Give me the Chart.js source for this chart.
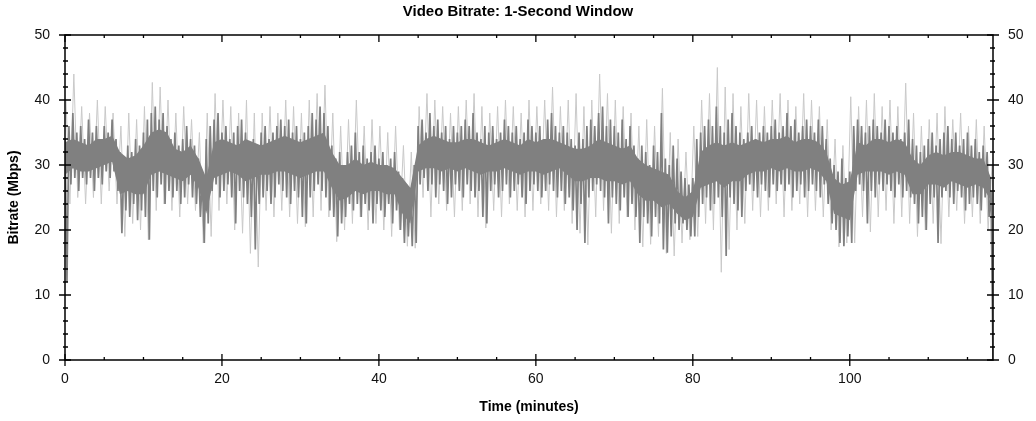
<!DOCTYPE html>
<html>
<head>
<meta charset="utf-8">
<script src="https://cdn.jsdelivr.net/npm/chart.js@4.4.1/dist/chart.umd.min.js"></script>
<style>
html,body{margin:0;padding:0;background:#fff;}
#wrap{width:1036px;height:421px;position:relative;}
</style>
</head>
<body>
<div id="wrap"><canvas id="c" width="1036" height="421"></canvas></div>
<script>
// Sampling interval of the band arrays (minutes)
const CORE_STEP = 0.5;
const PEAK_STEP = 1;
const BODY_STEP = 1;

// Densest part of the trace: upper / lower edge per minute (Mbps), t = 0 .. 118
const bodyHigh = [
 33.5,34,33.5,33,34,34,34.5,32,31,31.5,
 33,35,35.5,35,32.5,32,33,31,28,33.5,
 34,33.5,33,34,33.5,33,33.5,34,34.5,34,
 33.5,34,34.5,35,32,30,30,31,30,30.5,
 30,30,29.5,28,26.5,33,34,34.5,34,33.5,
 33.5,34,34,33.5,33,33.5,34,33.5,33,34,
 33.5,34,34,33.5,33,32.5,32.5,33,34,33.5,
 33,32.5,33,31,30,29.5,29,28.5,26,25,
 26,32,33,33.5,33,33.5,33,33.5,34,33.5,
 34,34,34.5,33.5,34,34,33.5,32,28,27,
 27.5,33.5,33,34,34,33.5,34,33.5,31,30,
 31.5,32,31.5,32,32,31.5,31,31,28
];
const bodyLow = [
 28.5,29.5,29,29,29.5,30,30.5,25.5,26,25.5,
 25.5,28.5,29,28.5,28,27.5,28.5,26.5,22.5,28,
 28.5,29,28.5,27.5,28,28.5,28.5,29,29,28.5,
 28,28.5,29,29,26.5,24.5,25,26,25.5,26,
 26,25.5,25.5,22.5,21,29,29.5,29.5,29,29.5,
 29,29.5,29,28.5,29,29,29.5,29,28.5,29,
 29,28.5,29,29.5,28.5,27.5,27.5,28,28,27.5,
 27.5,27,27.5,25.5,24.5,24.5,23.5,24,22.5,21.5,
 22,26.5,27,27.5,26.5,27.5,27.5,28.5,29,29,
 29.5,29,29.5,29,29,29.5,29,27.5,22.5,22,
 21.5,28.5,29,29,29,28.5,29,28.5,25.5,25.5,
 27,27,26.5,27.5,27,26.5,27,26.5,24.5
];

// Dark spikes: upper / lower value per half minute (Mbps), t = 0 .. 118
const coreHigh = [
 34,36,38,35,36,34,37,35,36,34,36,35,37,34,32,31,33,32,34,33,
 35,37,38,39,37,38,36,34,35,33,34,36,34,33,31,28,34,36,37,38,
 35,36,34,35,36,37,35,33,34,33,35,36,34,35,36,37,36,37,35,36,
 34,35,36,38,37,39,38,36,33,31,32,30,32,33,35,32,33,31,32,33,
 31,32,30,31,32,29,28,27,26,30,36,37,35,38,36,37,35,36,34,36,
 35,36,37,36,38,35,34,36,35,36,34,35,37,36,35,36,34,35,37,36,
 35,36,34,37,38,36,35,36,35,34,33,35,34,36,37,36,38,39,36,37,
 36,35,37,34,36,33,31,33,32,30,33,32,38,31,30,33,31,29,28,27,
 28,34,35,36,37,36,39,36,35,37,38,36,35,34,35,36,34,35,36,35,
 36,37,35,36,38,36,37,35,36,37,36,35,37,36,34,31,30,29,31,28,
 29,36,37,36,35,36,37,36,35,37,36,35,36,34,35,37,34,33,32,33,
 34,35,33,34,35,36,34,35,33,34,35,33,34,32,33,32,26
];
const coreLow = [
 12,27,28,26,28,27,28,26,28,27,29,28,29,26,19.5,23,22,24,21.5,23,
 22,18.5,26,25,27,24,26,25,26,24,25,27,25,24,22,18,21,26,27,25,
 26,27,25,21,26,25,24,22,17,24,25,26,24,25,27,26,25,24,26,25,
 22,21,25,26,27,26,25,23,22,19,21,22,24,23,24,22,24,23,21,24,
 23,22,24,21,23,20,18,19,17.5,18,27,28,26,27,25,27,26,24,25,27,
 26,25,27,26,25,26,22,21,26,27,25,26,27,25,26,27,25,24,26,27,
 26,25,26,27,26,25,26,24,25,23,20,24,18,25,26,27,26,25,21,25,
 24,23,25,22,24,22,18,22,21,19,22,21,17,16.5,19,21,20,21,20,19,
 19,22,24,25,23,24,25,22,16,25,24,23,22,26,27,26,25,27,26,25,
 27,26,27,26,27,25,26,27,25,26,27,26,25,27,24,21,20,18,17.5,19,
 18,26,27,26,21,26,25,27,26,27,26,25,27,25,26,25,24,21,22,20,
 24,25,18,25,26,25,24,26,25,23,24,25,24,23,25,22,0
];

// Light outer spikes: highest / lowest value per minute (Mbps)
const peakHigh = [
 40,44,39,38,40,39,38,36,38,37,
 39,42.7,42,40,38,39,37,35,38,41,
 40,39,38,40,38,38,39,38,40,39,
 38,40,41,42.3,38,36,37,40,36,37,
 36,35,36,33,32,39,41,40,39,38,
 39,40,41,39,38,39,40,39,38,40,
 39,40,42,39,40,41,39,40,44,41,
 40,39,38,36,37,36,41.8,35,34,32,
 36,40,41,45,42,41,39,41,40,39,
 40,41,40,39,41,40,39,37,34,33,
 40.5,39,40,41,39,40,39,42.6,38,36,
 37,38,39,37,38,36,37,36,30
];
const peakLow = [
 24,25,24,25,24,26,24,19,21,20,
 18.5,23,24,23,22,24,23,18,19,23,
 24,20,19.5,16.4,14.3,23,22,23,22,21,
 20.5,22,23,22,18.2,20,21,22,20,21,
 20,19,20,17.5,17.2,25,22,24,23,22,
 23,24,22,20.3,23,22,24,23,22,23,
 24,23,22,23,21,19.5,17.7,22,23,19.5,
 21,22,20,17.4,17.8,19,16.4,16,18,18.5,
 19,21,20,13.5,17,20,21,23,22,23,
 24,22,23,24,22,23,22,20,17.4,18,
 18,22,19.7,22,23,21,22,21,19,20,
 21,17.9,22,23,21,22,21,20
];

const xTickLabels = [0, 20, 40, 60, 80, 100];
const yTickLabels = [0, 10, 20, 30, 40, 50];

function zigzag(highs, lows, step) {
  const pts = [];
  const n = Math.max(highs.length, lows.length);
  for (let i = 0; i < n; i++) {
    if (i < highs.length) pts.push({x: i * step, y: highs[i]});
    if (i < lows.length) pts.push({x: i * step + step / 2, y: lows[i]});
  }
  return pts;
}
const series = (vals, step) => vals.map((v, i) => ({x: i * step, y: v}));

const corePts = zigzag(coreHigh, coreLow, CORE_STEP);
const peakPts = zigzag(peakHigh, peakLow, PEAK_STEP).map(p => ({x: p.x + 0.125, y: p.y}));

const FONT = "'Liberation Sans', Arial, sans-serif";
const DARK = '#808080';

const frame = {
  id: 'frame',
  afterDatasetsDraw(chart) {
    const {ctx, chartArea: a, scales} = chart;
    const xs = scales.x, ys = scales.y;
    ctx.save();
    ctx.strokeStyle = '#000';
    ctx.lineWidth = 1.5;
    ctx.strokeRect(a.left, a.top, a.right - a.left, a.bottom - a.top);
    ctx.lineWidth = 1.3;
    ctx.beginPath();
    for (let v = 0; v <= 50; v += 2) {
      const y = ys.getPixelForValue(v);
      if (v % 10 === 0) {
        ctx.moveTo(a.left - 6, y); ctx.lineTo(a.left + 6, y);
        ctx.moveTo(a.right - 6, y); ctx.lineTo(a.right + 6, y);
      } else {
        ctx.moveTo(a.left - 2, y); ctx.lineTo(a.left + 3, y);
        ctx.moveTo(a.right - 3, y); ctx.lineTo(a.right + 2, y);
      }
    }
    for (let t = 0; t <= 115; t += 5) {
      const x = xs.getPixelForValue(t);
      if (t % 20 === 0) {
        ctx.moveTo(x, a.bottom - 6); ctx.lineTo(x, a.bottom + 6);
        ctx.moveTo(x, a.top); ctx.lineTo(x, a.top + 7);
      } else {
        ctx.moveTo(x, a.bottom - 3); ctx.lineTo(x, a.bottom);
        ctx.moveTo(x, a.top); ctx.lineTo(x, a.top + 3);
      }
    }
    ctx.stroke();
    ctx.restore();
  }
};

new Chart(document.getElementById('c'), {
  type: 'line',
  data: {
    datasets: [
      {data: series(bodyHigh, BODY_STEP), borderColor: DARK, borderWidth: 0, pointRadius: 0, tension: 0, fill: false, order: 1},
      {data: series(bodyLow, BODY_STEP), borderColor: DARK, borderWidth: 0, pointRadius: 0, tension: 0, fill: '-1', backgroundColor: DARK, order: 1},
      {data: corePts, borderColor: DARK, borderWidth: 1.7, pointRadius: 0, tension: 0, borderJoinStyle: 'bevel', fill: false, order: 2},
      {data: peakPts, borderColor: '#c9c9c9', borderWidth: 1, pointRadius: 0, tension: 0, borderJoinStyle: 'bevel', fill: false, order: 3}
    ]
  },
  options: {
    responsive: false,
    animation: false,
    events: [],
    layout: {padding: 0},
    plugins: {
      legend: {display: false},
      tooltip: {enabled: false},
      filler: {propagate: false},
      title: {
        display: true,
        text: 'Video Bitrate: 1-Second Window',
        color: '#000',
        font: {family: FONT, size: 15, weight: 'bold'},
        padding: {top: 3, bottom: 14}
      }
    },
    scales: {
      x: {
        type: 'linear', position: 'bottom', min: 0, max: 118.25,
        grid: {display: false, drawTicks: false},
        border: {display: false},
        ticks: {
          stepSize: 20, includeBounds: false, autoSkip: false, maxRotation: 0,
          padding: 11, color: '#111', font: {family: FONT, size: 14},
          callback: v => xTickLabels.includes(v) ? String(v) : ''
        },
        title: {display: true, text: 'Time (minutes)', color: '#000',
          font: {family: FONT, size: 14, weight: 'bold'}, padding: {top: 0, bottom: 5}},
        afterFit: s => { s.height = 61; }
      },
      y: {
        type: 'linear', position: 'left', min: 0, max: 50,
        grid: {display: false, drawTicks: false},
        border: {display: false},
        ticks: {stepSize: 10, padding: 15, color: '#111', font: {family: FONT, size: 14},
          callback: v => yTickLabels.includes(v) ? String(v) : ''},
        title: {display: true, text: 'Bitrate (Mbps)', color: '#000',
          font: {family: FONT, size: 14, weight: 'bold'}, padding: {top: 6, bottom: 0}},
        afterFit: s => { s.width = 65; }
      },
      y2: {
        type: 'linear', position: 'right', min: 0, max: 50,
        grid: {display: false, drawTicks: false},
        border: {display: false},
        ticks: {stepSize: 10, padding: 15, color: '#111', font: {family: FONT, size: 14},
          callback: v => yTickLabels.includes(v) ? String(v) : ''},
        afterFit: s => { s.width = 43; }
      }
    }
  },
  plugins: [frame]
});
</script>
</body>
</html>
